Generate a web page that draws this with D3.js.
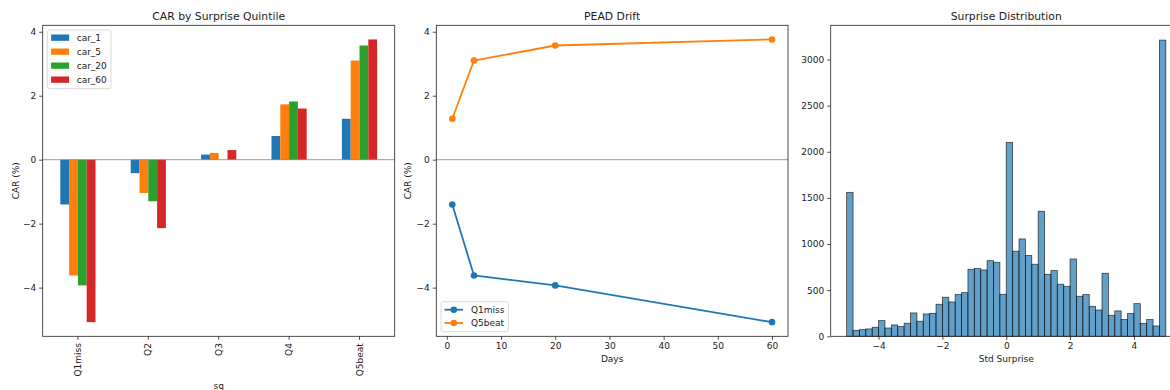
<!DOCTYPE html>
<html>
<head>
<meta charset="utf-8">
<script src="https://cdn.jsdelivr.net/npm/d3@7"></script>
<style>
  body { margin: 0; background: #fff; }
  text { font-family: "DejaVu Sans", sans-serif; fill: #1a1a1a; }
</style>
</head>
<body>
<svg id="chart" width="1170" height="390"></svg>
<script>
// quintile CARs (%)
const quintiles = ['Q1miss', 'Q2', 'Q3', 'Q4', 'Q5beat'];
const horizons = ['car_1', 'car_5', 'car_20', 'car_60'];
const car1 = [-1.40, -0.42, 0.16, 0.74, 1.28];
const car5 = [-3.62, -1.04, 0.21, 1.73, 3.10];
const car20 = [-3.93, -1.30, 0.00, 1.82, 3.57];
const car60 = [-5.08, -2.14, 0.30, 1.60, 3.76];

// drift panel
const days = [1, 5, 20, 60];
const driftNames = ['Q1miss', 'Q5beat'];

// histogram of std surprise, 50 bins on [-5, 5]
const histLo = -5, histHi = 5;
const histCounts = [
  1560, 65, 72, 80, 98, 170, 90, 123, 105, 141,
  253, 163, 242, 249, 347, 423, 372, 452, 473, 726,
  734, 719, 820, 802, 455, 2100, 922, 1055, 875, 781,
  1355, 672, 712, 564, 542, 838, 434, 452, 325, 285,
  683, 228, 275, 181, 246, 354, 141, 181, 112, 3210
];

const colors = ['#1f77b4', '#ff7f0e', '#2ca02c', '#d62728'];
const svg = d3.select('#chart');
const axTop = 25.3, axBottom = 336.3;
const fs = 9;

const carSeries = [car1, car5, car20, car60];

// matplotlib style 5% margins
function padded(lo, hi) {
  const m = (hi - lo) * 0.05;
  return [lo - m, hi + m];
}

function frame(g, x0, x1) {
  g.append('rect')
    .attr('x', x0).attr('y', axTop)
    .attr('width', x1 - x0).attr('height', axBottom - axTop)
    .attr('fill', 'none').attr('stroke', '#222').attr('stroke-width', 0.8);
}

function yAxis(g, x0, y, ticks, fmt) {
  const ax = g.append('g').attr('transform', `translate(${x0},0)`)
    .call(d3.axisLeft(y).tickValues(ticks).tickSize(3.5).tickPadding(3).tickFormat(fmt));
  ax.select('.domain').remove();
  ax.selectAll('line').attr('stroke', '#222').attr('stroke-width', 0.8);
  ax.selectAll('text').attr('font-size', fs).attr('fill', '#1a1a1a').attr('font-family', 'DejaVu Sans');
  return ax;
}

function xAxisBottom(g, x, ticks, fmt) {
  const ax = g.append('g').attr('transform', `translate(0,${axBottom})`)
    .call(d3.axisBottom(x).tickValues(ticks).tickSize(3.5).tickPadding(3).tickFormat(fmt));
  ax.select('.domain').remove();
  ax.selectAll('line').attr('stroke', '#222').attr('stroke-width', 0.8);
  ax.selectAll('text').attr('font-size', fs).attr('fill', '#1a1a1a').attr('font-family', 'DejaVu Sans');
  return ax;
}

function title(g, cx, t) {
  g.append('text').attr('x', cx).attr('y', 20)
    .attr('text-anchor', 'middle').attr('font-size', 10.8).text(t);
}

function yLabel(g, x, t) {
  g.append('text')
    .attr('transform', `translate(${x},${(axTop + axBottom) / 2}) rotate(-90)`)
    .attr('text-anchor', 'middle').attr('dy', '0.35em')
    .attr('font-size', fs).text(t);
}

function xLabel(g, cx, y, t) {
  g.append('text').attr('x', cx).attr('y', y)
    .attr('text-anchor', 'middle').attr('font-size', fs).text(t);
}

const allCar = carSeries.flat();
const carDomain = padded(d3.min(allCar), d3.max(allCar));
const fmtNum = d3.format('');

// ---- panel 1: CAR by quintile ----
{
  const x0 = 42.7, x1 = 394.7;
  const g = svg.append('g');
  const x = d3.scaleBand().domain(quintiles).range([x0, x1]).paddingInner(0.5).paddingOuter(0.25);
  const xs = d3.scaleBand().domain(horizons).range([0, x.bandwidth()]);
  const y = d3.scaleLinear().domain(carDomain).range([axBottom, axTop]);

  const groups = g.selectAll('.grp').data(quintiles).enter().append('g')
    .attr('transform', d => `translate(${x(d)},0)`);
  groups.selectAll('rect')
    .data((q, i) => carSeries.map((s, j) => ({ h: horizons[j], v: s[i], c: colors[j] })))
    .enter().append('rect')
    .attr('x', d => xs(d.h))
    .attr('width', xs.bandwidth())
    .attr('y', d => y(Math.max(0, d.v)))
    .attr('height', d => Math.abs(y(d.v) - y(0)))
    .attr('fill', d => d.c);

  g.append('line').attr('x1', x0).attr('x2', x1).attr('y1', y(0)).attr('y2', y(0))
    .attr('stroke', '#808080').attr('stroke-width', 0.8);

  frame(g, x0, x1);
  yAxis(g, x0, y, [-4, -2, 0, 2, 4], fmtNum);

  const ax = g.append('g').attr('transform', `translate(0,${axBottom})`);
  quintiles.forEach(q => {
    const cx = x(q) + x.bandwidth() / 2;
    ax.append('line').attr('x1', cx).attr('x2', cx).attr('y1', 0).attr('y2', 3.5)
      .attr('stroke', '#222').attr('stroke-width', 0.8);
    ax.append('text')
      .attr('transform', `translate(${cx},${6.8}) rotate(-90)`)
      .attr('text-anchor', 'end').attr('dy', '0.35em')
      .attr('font-size', fs).text(q);
  });

  title(g, (x0 + x1) / 2, 'CAR by Surprise Quintile');
  yLabel(g, 15.7, 'CAR (%)');
  xLabel(g, (x0 + x1) / 2, 389, 'sq');

  // legend
  const lg = g.append('g').attr('transform', 'translate(47.3,30)');
  lg.append('rect').attr('width', 63.7).attr('height', 58.7).attr('rx', 2)
    .attr('fill', '#fff').attr('fill-opacity', 0.8).attr('stroke', '#d0d0d0').attr('stroke-width', 0.8);
  horizons.forEach((h, j) => {
    const cy = 7.7 + j * 14;
    lg.append('rect').attr('x', 3.8).attr('y', cy - 3.2).attr('width', 18).attr('height', 6.3).attr('fill', colors[j]);
    lg.append('text').attr('x', 29.4).attr('y', cy).attr('dy', '0.35em').attr('font-size', fs).text(h);
  });
}

// ---- panel 2: PEAD drift ----
{
  const x0 = 436.3, x1 = 788;
  const g = svg.append('g');
  const x = d3.scaleLinear().domain(padded(d3.min(days), d3.max(days))).range([x0, x1]);
  const y = d3.scaleLinear().domain(carDomain).range([axBottom, axTop]);

  const drift = [
    { name: driftNames[0], c: colors[0], vals: carSeries.map(s => s[0]) },
    { name: driftNames[1], c: colors[1], vals: carSeries.map(s => s[quintiles.length - 1]) }
  ];

  g.append('line').attr('x1', x0).attr('x2', x1).attr('y1', y(0)).attr('y2', y(0))
    .attr('stroke', '#808080').attr('stroke-width', 0.8);

  const line = d3.line().x((d, i) => x(days[i])).y(d => y(d));
  drift.forEach(s => {
    g.append('path').attr('d', line(s.vals)).attr('fill', 'none')
      .attr('stroke', s.c).attr('stroke-width', 1.8);
    g.selectAll(null).data(s.vals).enter().append('circle')
      .attr('cx', (d, i) => x(days[i])).attr('cy', d => y(d)).attr('r', 3.3)
      .attr('fill', s.c);
  });

  frame(g, x0, x1);
  yAxis(g, x0, y, [-4, -2, 0, 2, 4], fmtNum);
  xAxisBottom(g, x, [0, 10, 20, 30, 40, 50, 60], fmtNum);

  title(g, (x0 + x1) / 2, 'PEAD Drift');
  yLabel(g, 407.7, 'CAR (%)');
  xLabel(g, (x0 + x1) / 2, 362, 'Days');

  const lg = g.append('g').attr('transform', 'translate(441,301.7)');
  lg.append('rect').attr('width', 67.3).attr('height', 30).attr('rx', 2)
    .attr('fill', '#fff').attr('fill-opacity', 0.8).attr('stroke', '#d0d0d0').attr('stroke-width', 0.8);
  drift.forEach((s, j) => {
    const cy = 8 + j * 13.3;
    lg.append('line').attr('x1', 3.5).attr('x2', 22).attr('y1', cy).attr('y2', cy)
      .attr('stroke', s.c).attr('stroke-width', 1.8);
    lg.append('circle').attr('cx', 12.8).attr('cy', cy).attr('r', 3.3).attr('fill', s.c);
    lg.append('text').attr('x', 30).attr('y', cy).attr('dy', '0.35em').attr('font-size', fs).text(s.name);
  });
}

// ---- panel 3: surprise histogram ----
{
  const x0 = 830.7, x1 = 1181.8;
  const g = svg.append('g');
  const x = d3.scaleLinear().domain(padded(histLo, histHi)).range([x0, x1]);
  const y = d3.scaleLinear().domain([0, d3.max(histCounts) * 1.05]).range([axBottom, axTop]);
  const bw = (histHi - histLo) / histCounts.length;

  g.selectAll('.bin').data(histCounts).enter().append('rect')
    .attr('x', (d, i) => x(histLo + i * bw))
    .attr('width', (d, i) => x(histLo + (i + 1) * bw) - x(histLo + i * bw))
    .attr('y', d => y(d))
    .attr('height', d => y(0) - y(d))
    .attr('fill', '#1f77b4').attr('fill-opacity', 0.7)
    .attr('stroke', '#000').attr('stroke-opacity', 0.7).attr('stroke-width', 0.8);

  frame(g, x0, x1);
  yAxis(g, x0, y, d3.range(0, 3001, 500), fmtNum);
  xAxisBottom(g, x, [-4, -2, 0, 2, 4], fmtNum);

  title(g, (x0 + x1) / 2, 'Surprise Distribution');
  xLabel(g, 1006.3, 362, 'Std Surprise');
}
</script>
</body>
</html>
